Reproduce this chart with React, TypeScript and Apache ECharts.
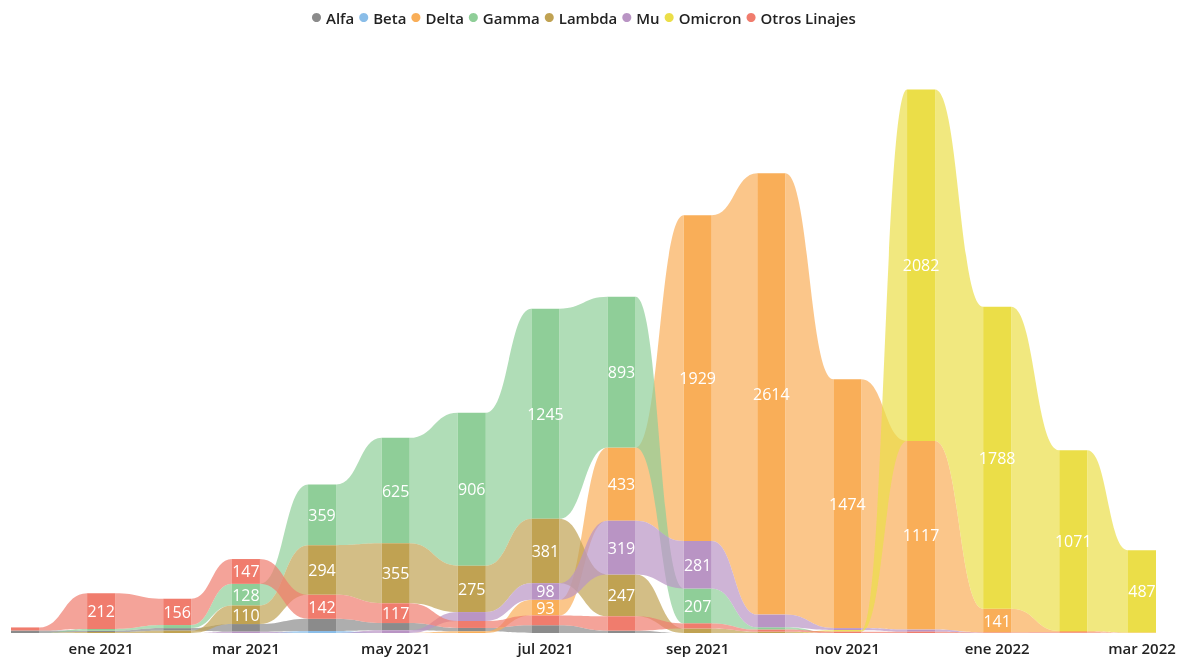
import { useEffect, useRef } from 'react';
import * as echarts from 'echarts';

// Months (first day of each month)
const months = [
  '2020-12', '2021-01', '2021-02', '2021-03', '2021-04', '2021-05', '2021-06', '2021-07',
  '2021-08', '2021-09', '2021-10', '2021-11', '2021-12', '2022-01', '2022-02', '2022-03',
];

const seriesNames = ['Alfa', 'Beta', 'Delta', 'Gamma', 'Lambda', 'Mu', 'Omicron', 'Otros Linajes'];

// Values per lineage, one per month
const alfa = [15, 8, 15, 45, 72, 43, 20, 46, 14, 0, 0, 0, 0, 0, 0, 0];
const beta = [0, 0, 0, 0, 12, 0, 0, 0, 0, 0, 0, 0, 0, 0, 0, 0];
const delta = [0, 0, 0, 0, 0, 0, 10, 93, 433, 1929, 2614, 1474, 1117, 141, 8, 3];
const gamma = [0, 10, 18, 128, 359, 625, 906, 1245, 893, 207, 14, 0, 0, 0, 0, 0];
const lambda = [0, 6, 14, 110, 294, 355, 275, 381, 247, 27, 8, 0, 0, 0, 0, 0];
const mu = [0, 0, 0, 8, 0, 16, 53, 98, 319, 281, 75, 12, 12, 0, 0, 0];
const omicron = [0, 0, 0, 0, 0, 0, 0, 0, 0, 0, 0, 9, 2082, 1788, 1071, 487];
const otros = [18, 212, 156, 147, 142, 117, 41, 58, 85, 30, 12, 8, 8, 3, 4, 0];

const seriesValues = [alfa, beta, delta, gamma, lambda, mu, omicron, otros];
const colors = ['#8b8b8b', '#8abde8', '#f9ae58', '#8fce98', '#c0a252', '#b994c4', '#ebde48', '#f07c6d'];

// Axis tick labels
const tickMonths = ['2021-01', '2021-03', '2021-05', '2021-07', '2021-09', '2021-11', '2022-01', '2022-03'];
const tickLabels = ['ene 2021', 'mar 2021', 'may 2021', 'jul 2021', 'sep 2021', 'nov 2021', 'ene 2022', 'mar 2022'];

const LABEL_MIN = 90;
const HALF = 14;
const RIBBON_OPACITY = 0.7;
const FONT = '"Open Sans", "Noto Sans", sans-serif';

const toUTC = (m: string) => {
  const [y, mo] = m.split('-').map(Number);
  return Date.UTC(y, mo - 1, 1);
};
const origin = toUTC(months[0]);
const dayOf = (m: string) => Math.round((toUTC(m) - origin) / 86400000);
const days = months.map(dayOf);
const tickDays = tickMonths.map(dayOf);

// Ribbon-chart stacking: within each month, biggest on top
const n = months.length;
const lo: number[][] = seriesValues.map(() => new Array(n).fill(0));
const hi: number[][] = seriesValues.map(() => new Array(n).fill(0));
for (let i = 0; i < n; i++) {
  const order = seriesValues.map((_, s) => s).sort((a, b) => {
    const d = seriesValues[a][i] - seriesValues[b][i];
    return d !== 0 ? d : b - a;
  });
  let acc = 0;
  for (const s of order) {
    lo[s][i] = acc;
    acc += seriesValues[s][i];
    hi[s][i] = acc;
  }
}

const hexToRgba = (hex: string, a: number) => {
  const r = parseInt(hex.slice(1, 3), 16);
  const g = parseInt(hex.slice(3, 5), 16);
  const b = parseInt(hex.slice(5, 7), 16);
  return `rgba(${r},${g},${b},${a})`;
};

export default function App() {
  const ref = useRef<HTMLDivElement>(null);
  useEffect(() => {
    if (!ref.current) return;
    const chart = echarts.init(ref.current, null, { renderer: 'svg' });
    const series = seriesNames.map((name, s) => {
      const vals = seriesValues[s];
      const color = colors[s];
      return {
        type: 'custom',
        name,
        coordinateSystem: 'cartesian2d',
        itemStyle: { color },
        clip: false,
        silent: true,
        encode: { x: 0, y: 1 },
        data: months.map((_, i) => [days[i], vals[i]]),
        renderItem: (params: any, api: any) => {
          const i = params.dataIndex;
          const children: any[] = [];
          const cx = api.coord([days[i], 0])[0];
          if (i < n - 1 && (vals[i] > 0 || vals[i + 1] > 0)) {
            const cx2 = api.coord([days[i + 1], 0])[0];
            const xa = cx + HALF;
            const xb = cx2 - HALF;
            const mid = (xa + xb) / 2;
            const ta = api.coord([days[i], hi[s][i]])[1];
            const ba = api.coord([days[i], lo[s][i]])[1];
            const tb = api.coord([days[i + 1], hi[s][i + 1]])[1];
            const bb = api.coord([days[i + 1], lo[s][i + 1]])[1];
            const d = `M${xa},${ta} C${mid},${ta} ${mid},${tb} ${xb},${tb} L${xb},${bb} C${mid},${bb} ${mid},${ba} ${xa},${ba} Z`;
            children.push({
              type: 'path',
              shape: { pathData: d },
              style: { fill: hexToRgba(color, RIBBON_OPACITY), stroke: null },
            });
          }
          if (vals[i] > 0) {
            const yTop = api.coord([days[i], hi[s][i]])[1];
            const yBot = api.coord([days[i], lo[s][i]])[1];
            children.push({
              type: 'rect',
              shape: { x: cx - HALF, y: yTop, width: HALF * 2, height: yBot - yTop },
              style: { fill: color, stroke: null },
            });
            if (vals[i] >= LABEL_MIN) {
              children.push({
                type: 'text',
                style: {
                  text: String(vals[i]),
                  x: cx,
                  y: (yTop + yBot) / 2,
                  fill: '#ffffff',
                  fontSize: 16,
                  lineHeight: 14,
                  fontFamily: FONT,
                  fontWeight: 'normal',
                  align: 'center',
                  verticalAlign: 'middle',
                  textAlign: 'center',
                  textVerticalAlign: 'middle',
                },
              });
            }
          }
          return { type: 'group', children };
        },
      };
    });

    chart.setOption({
      animation: false,
      legend: {
        top: 5,
        left: 307,
        data: seriesNames.map((name) => ({ name, icon: 'circle' })),
        itemWidth: 9,
        itemHeight: 9,
        itemGap: 5,
        textStyle: { fontFamily: FONT, fontSize: 15, fontWeight: 600, color: '#222' },
        selectedMode: false,
      },
      grid: { left: 25, right: 46, top: 42, bottom: 25, containLabel: false, outerBoundsMode: 'none' },
      xAxis: {
        type: 'value',
        min: days[0],
        max: days[n - 1],
        axisLine: { show: false },
        axisTick: { show: false },
        splitLine: { show: false },
        axisLabel: {
          customValues: tickDays,
          margin: 7,
          fontFamily: FONT,
          fontSize: 15,
          fontWeight: 600,
          color: '#222',
          formatter: (v: number) => {
            const k = tickDays.indexOf(Math.round(v));
            return k >= 0 ? tickLabels[k] : '';
          },
        },
      },
      yAxis: { type: 'value', min: 0, max: 3500, show: false },
      series,
    } as any);
    return () => chart.dispose();
  }, []);
  return (
    <div
      ref={ref}
      style={{ position: 'fixed', left: 0, top: 0, width: 1188, height: 658 }}
    />
  );
}
